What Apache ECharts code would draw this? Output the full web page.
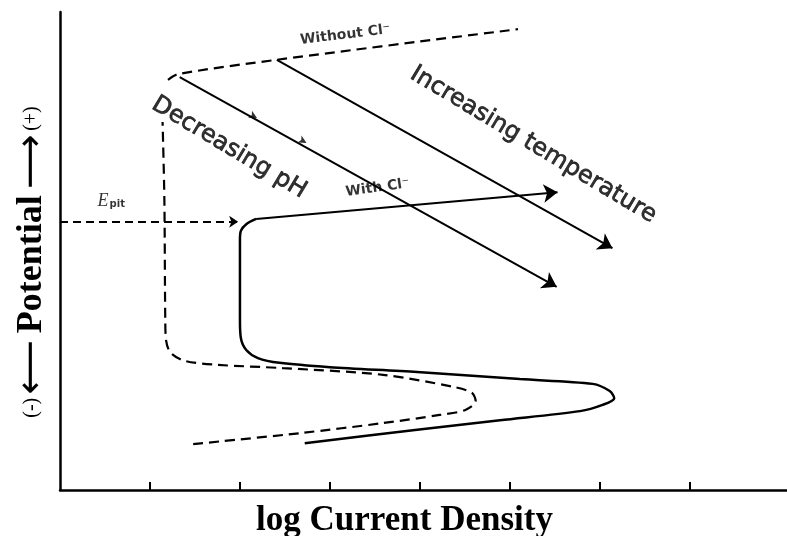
<!DOCTYPE html>
<html>
<head>
<meta charset="utf-8">
<script src="https://cdn.jsdelivr.net/npm/echarts@6/dist/echarts.min.js"></script>
<style>
  html, body { margin: 0; padding: 0; background: #fff; }
  #chart { width: 787px; height: 536px; }
</style>
</head>
<body>
<div id="chart"></div>
<script>
// Schematic anodic polarization curves for a passive metal.
// x: log current density (decades), y: potential (arbitrary units, noble upward)

const xTickValues = [1, 2, 3, 4, 5, 6, 7];

// Curve measured with chloride present (solid)
const withCl = [
  [2.72, 0.98], [3.97, 1.26], [4.89, 1.46], [5.78, 1.65], [6.03, 1.78],
  [6.16, 1.92], [6.11, 2.07], [5.92, 2.22], [5.11, 2.32], [3.97, 2.47],
  [3.0, 2.57], [2.44, 2.66], [2.2, 2.76], [2.07, 2.93], [2.01, 3.18],
  [2.0, 3.56], [2.0, 5.23], [2.01, 5.42], [2.07, 5.56], [2.18, 5.67]
];
// Breakdown above the pitting potential
const withClBreakdown = [[2.18, 5.67], [5.53, 6.23]];

// Curve without chloride (dashed), active loop and passive range
const withoutClLower = [
  [1.48, 0.96], [2.67, 1.19], [3.59, 1.40], [4.22, 1.57], [4.5, 1.67],
  [4.62, 1.86], [4.58, 2.03], [4.39, 2.15], [3.59, 2.41], [2.48, 2.55],
  [1.74, 2.62], [1.39, 2.70], [1.23, 2.87], [1.18, 3.12], [1.17, 3.56],
  [1.16, 6.07], [1.14, 7.70]
];
// Transpassive part
const withoutClUpper = [[1.2, 8.58], [1.31, 8.70], [2.41, 9.0], [5.09, 9.64]];

// Pitting potential marker
const pitLine = [[0, 5.61], [1.98, 5.61]];

// Trend arrows
const phArrow = [[1.33, 8.64], [5.52, 4.25]];
const tempArrow = [[2.41, 9.0], [6.14, 5.06]];
const phArrowMarks = [[2.19, 7.78], [2.74, 7.26]];

// Text annotations: [x, y, text, rotation, style]
const notes = [
  [1.88, 7.16, 'Decreasing pH', -31, 'big'],
  [5.26, 7.22, 'Increasing temperature', -31, 'big'],
  [3.17, 9.52, 'Without Cl\u207B', 7, 'small'],
  [3.53, 6.32, 'With Cl\u207B', 8, 'small'],
  [0.57, 6.05, '{e|E}{p|pit}', 0, 'pit']
];

const ink = '#000';
const chart = echarts.init(document.getElementById('chart'), null, { renderer: 'canvas' });

const noteStyles = {
  big: { fontFamily: 'DejaVu Sans', fontSize: 24, color: ink, textBorderColor: ink, textBorderWidth: 0.7 },
  small: { fontFamily: 'DejaVu Sans', fontSize: 14, fontWeight: 'bold', color: ink },
  pit: {
    rich: {
      e: { fontFamily: 'Liberation Serif', fontStyle: 'italic', fontSize: 18, color: ink },
      p: { fontFamily: 'DejaVu Sans', fontSize: 10, fontWeight: 'bold', color: ink, verticalAlign: 'bottom', padding: [8, 0, 0, 1] }
    }
  }
};

chart.setOption({
  animation: false,
  backgroundColor: '#fff',
  grid: { left: 60, right: 0, top: 12, bottom: 46, containLabel: false, outerBoundsMode: 'none' },
  xAxis: {
    type: 'value', min: 0, max: 8.08,
    name: 'log Current Density',
    nameLocation: 'middle', nameGap: 13,
    nameTextStyle: { fontFamily: 'Liberation Serif', fontWeight: 'bold', fontSize: 35, color: ink, padding: [0, 38, 0, 0] },
    axisLine: { lineStyle: { color: ink, width: 2.5 } },
    axisTick: { show: true, inside: true, length: 8, customValues: xTickValues, lineStyle: { color: ink, width: 2 } },
    axisLabel: { show: false },
    splitLine: { show: false }
  },
  yAxis: {
    type: 'value', min: 0, max: 10,
    name: '{s|(-)} {a|\u27F5}  {b|Potential}  {a|\u27F6} {s|(+)}',
    nameLocation: 'middle', nameGap: 9,
    nameTextStyle: {
      padding: [0, 0, 0, -22],
      rich: {
        s: { fontFamily: 'Liberation Serif', fontSize: 20, color: ink },
        a: { fontFamily: 'DejaVu Sans', fontSize: 38, color: ink },
        b: { fontFamily: 'Liberation Serif', fontWeight: 'bold', fontSize: 36, color: ink }
      }
    },
    axisLine: { show: true, lineStyle: { color: ink, width: 2.5 } },
    axisTick: { show: false },
    axisLabel: { show: false },
    splitLine: { show: false }
  },
  series: [
    {
      type: 'line', data: withCl, smooth: 0.3, symbol: 'none',
      lineStyle: { color: ink, width: 2.5 }
    },
    {
      type: 'line', data: withoutClLower, smooth: 0.3, symbol: 'none',
      lineStyle: { color: ink, width: 2.2, type: [10, 6] }
    },
    {
      type: 'line', data: withoutClUpper, smooth: 0.3, symbol: 'none',
      lineStyle: { color: ink, width: 2.2, type: [10, 6] }
    },
    {
      type: 'lines', coordinateSystem: 'cartesian2d',
      symbol: ['none', 'arrow'], symbolSize: [8, 14],
      lineStyle: { color: ink, width: 2, opacity: 1 },
      data: [
        { coords: withClBreakdown },
        { coords: phArrow },
        { coords: tempArrow }
      ]
    },
    {
      type: 'lines', coordinateSystem: 'cartesian2d',
      symbol: ['none', 'arrow'], symbolSize: [7, 9],
      lineStyle: { color: ink, width: 2, type: [8, 5], opacity: 1 },
      data: [{ coords: pitLine }]
    },
    {
      type: 'scatter', data: phArrowMarks, symbol: 'arrow',
      symbolSize: [6, 8], symbolRotate: -119,
      itemStyle: { color: ink }
    },
    {
      type: 'scatter', symbolSize: 0,
      data: notes.map(n => ({
        value: [n[0], n[1]],
        label: Object.assign({
          show: true, position: 'inside', rotate: n[3],
          formatter: n[2]
        }, noteStyles[n[4]])
      }))
    }
  ]
});
</script>
</body>
</html>
